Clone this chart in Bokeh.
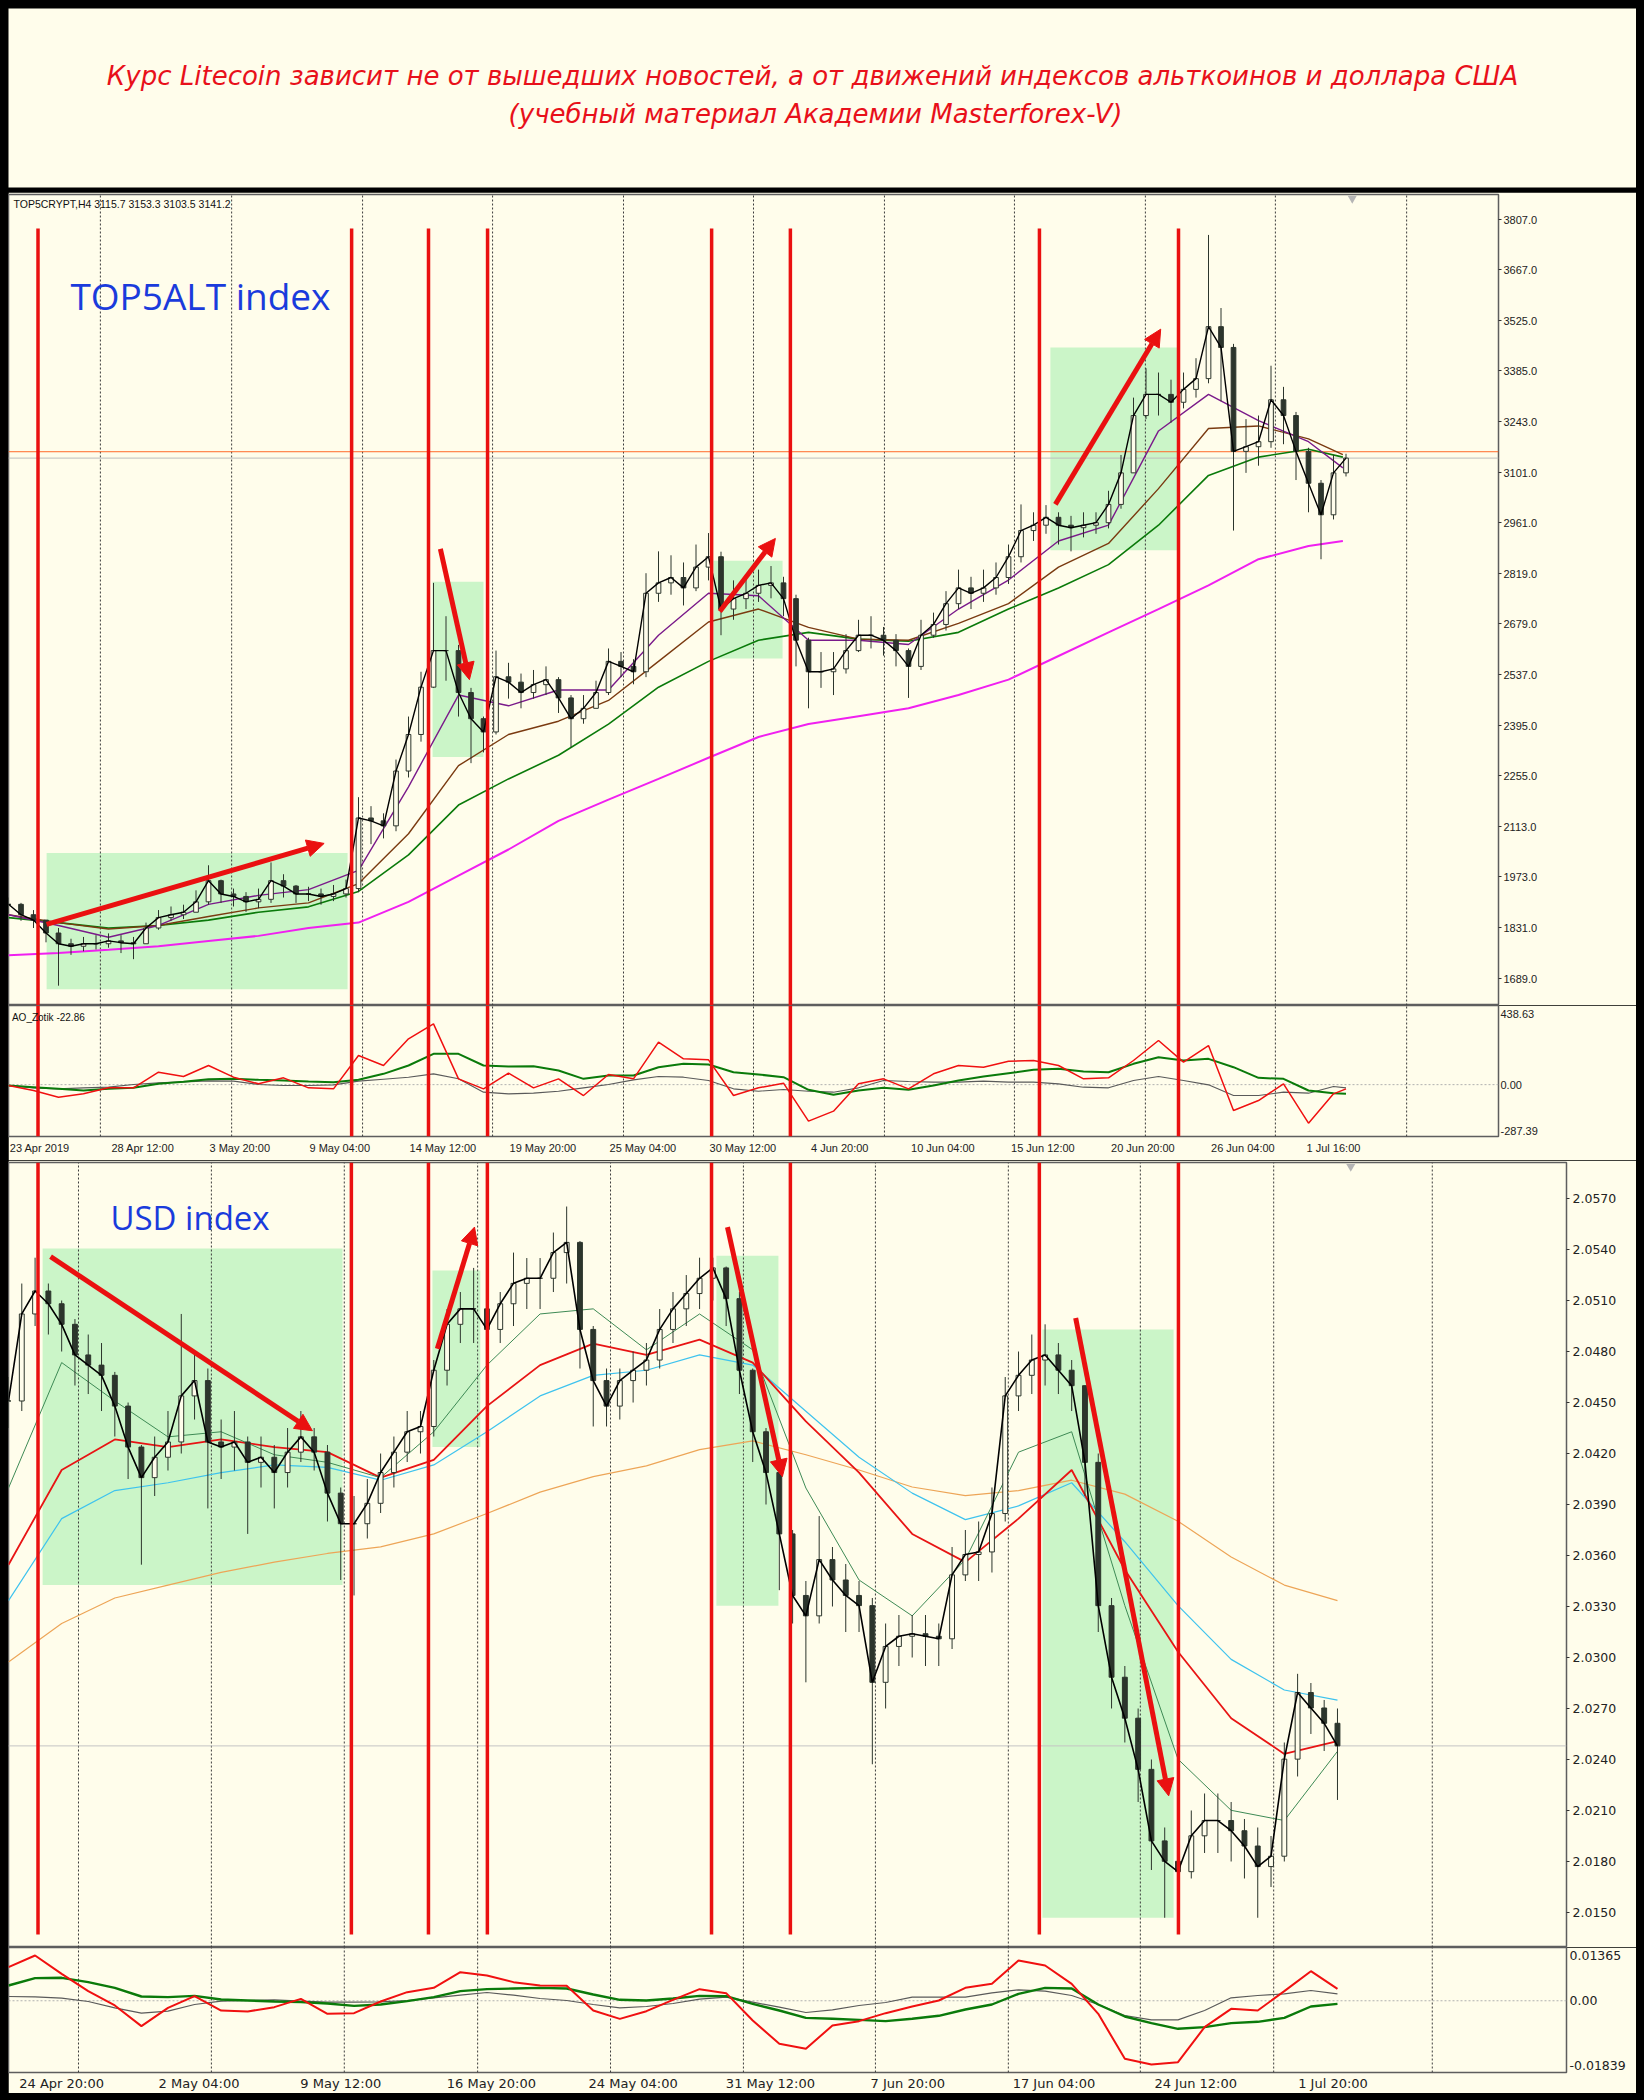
from bokeh.plotting import figure
from bokeh.models import Range1d, FixedTicker, PrintfTickFormatter, Label, Arrow, NormalHead
from bokeh.layouts import column
from bokeh.embed import file_html
from bokeh.resources import INLINE
from bokeh.core.properties import value

CREAM = "#FFFDEB"
BOX_GREEN = "#CBF5C8"
EVENT_RED = "#EA1010"
CANDLE = "#2C352C"
GRID = "#3C3C3C"

title_line1 = "Курс Litecoin зависит не от вышедших новостей, а от движений индексов альткоинов и доллара США"
title_line2 = "(учебный материал Академии Masterforex-V)"

# ================= TOP5ALT index (H4, one sample every 4 bars) =================
top_bar_step = 4
top_close = [1896,1867,1852,1816,1786,1779,1786,1786,1794,1789,
             1786,1830,1859,1867,1874,1903,1962,1925,1918,1903,
             1910,1962,1947,1925,1925,1918,1925,1940,2137,2129,
             2115,2268,2370,2502,2604,2604,2487,2414,2377,2531,
             2516,2487,2509,2523,2472,2414,2443,2487,2574,2560,
             2545,2764,2793,2808,2779,2837,2866,2720,2749,2764,
             2786,2793,2749,2633,2545,2545,2553,2604,2647,2647,
             2633,2604,2560,2647,2677,2735,2779,2764,2779,2808,
             2866,2939,2954,2976,2954,2947,2954,2961,3012,3100,
             3260,3319,3319,3297,3333,3363,3508,3450,3160,3173,
             3187,3304,3260,3160,3071,2983,3100,3141.2]
top_high = [1915,1900,1880,1850,1830,1800,1805,1810,1815,1810,
            1805,1845,1880,1890,1895,1935,2005,1965,1940,1930,
            1940,2013,1980,1950,1945,1940,1950,1965,2195,2170,
            2150,2300,2420,2545,2793,2700,2620,2500,2420,2604,
            2570,2540,2550,2560,2530,2480,2480,2520,2610,2600,
            2580,2820,2881,2870,2850,2900,2932,2880,2800,2810,
            2830,2840,2810,2760,2640,2600,2600,2650,2690,2700,
            2670,2650,2610,2690,2710,2770,2830,2810,2830,2850,
            2900,3012,2990,3010,2990,2980,2990,2990,3050,3150,
            3310,3392,3380,3360,3380,3420,3764,3560,3460,3250,
            3260,3399,3340,3270,3170,3080,3150,3153.3]
top_low = [1870,1850,1830,1790,1669,1755,1765,1770,1775,1760,
           1743,1800,1825,1850,1855,1880,1895,1900,1890,1875,
           1885,1900,1915,1900,1905,1895,1905,1915,1930,2064,
           2080,2100,2250,2350,2500,2520,2420,2290,2320,2370,
           2470,2443,2470,2480,2430,2334,2400,2450,2480,2530,
           2510,2530,2740,2760,2730,2770,2800,2647,2690,2720,
           2740,2750,2700,2560,2443,2500,2480,2540,2600,2610,
           2590,2560,2472,2550,2640,2660,2720,2720,2740,2760,
           2790,2850,2910,2930,2900,2881,2920,2930,2945,3000,
           3100,3250,3260,3240,3280,3310,3350,3300,2939,3100,
           3120,3170,3180,3080,2990,2859,2970,3090]

top_ma_x = [0,16,32,48,64,80,96,112,128,144,160,176,192,208,224,240,256,272,288,304,320,336,352,368,384,400,416,427]
top_ma_purple = [1867,1837,1804,1837,1896,1921,1937,1991,2224,2480,2450,2494,2494,2647,2764,2757,2633,2633,2621,2720,2801,2910,2954,3217,3319,3246,3187,3114]
top_ma_brown = [1867,1845,1827,1837,1862,1886,1900,1954,2093,2283,2370,2407,2465,2574,2684,2720,2669,2636,2633,2680,2735,2837,2903,3056,3224,3231,3195,3151]
top_ma_green = [1859,1845,1830,1837,1852,1874,1889,1932,2034,2173,2246,2312,2399,2502,2574,2633,2655,2636,2630,2655,2720,2779,2844,2954,3093,3144,3166,3144]
top_ma_magenta = [1754,1760,1769,1779,1794,1808,1830,1845,1903,1976,2049,2129,2188,2246,2305,2363,2399,2421,2443,2480,2523,2589,2655,2720,2786,2859,2896,2910]

top_ao_x = [8 * k for k in range(54)] + [428]
top_ao_red = [-4.8,-32.5,-69.4,-51.0,-17.7,-17.7,69.1,45.1,106.1,41.4,4.5,37.7,-17.7,-23.2,161.5,106.1,253.9,337.0,32.2,-23.2,
              63.6,-17.7,32.2,-60.2,56.2,32.2,235.4,143.0,137.5,-60.2,-17.7,8.2,-202.4,-147.0,4.5,32.2,-23.2,59.9,106.1,96.8,
              130.1,133.8,106.1,32.2,37.7,133.8,244.6,124.5,216.9,-143.3,-87.9,4.5,-213.5,-51.0,-23.2]
top_ao_green = [-4.8,-14.0,-23.2,-32.5,-23.2,-17.7,4.5,15.6,30.3,32.2,26.6,22.9,17.4,13.7,26.6,59.9,106.1,170.7,170.7,106.1,
                100.5,102.4,78.4,32.2,50.7,50.7,96.8,115.3,111.6,69.1,56.2,41.4,-28.8,-56.5,-32.5,-17.7,-28.8,-4.8,22.9,45.1,
                63.6,82.1,87.6,72.8,69.1,115.3,152.3,133.8,143.0,96.8,37.7,32.2,-32.5,-47.2,-51.0]
top_ao_gray = [-4.8,-17.7,-23.2,-17.7,-14.0,0.8,10.0,15.6,21.1,19.3,0.8,-4.8,-4.8,-1.1,19.3,30.3,41.4,59.9,32.2,-41.7,
               -51.0,-47.2,-36.2,-17.7,0.8,26.6,45.1,41.4,22.9,-23.2,-36.2,-26.9,-36.2,-41.7,-17.7,22.9,17.4,13.7,13.7,19.3,
               13.7,13.7,4.5,-14.0,-17.7,22.9,45.1,22.9,-1.1,-60.2,-60.2,-41.7,-47.2,-10.3,-17.7]

top_price_ticks = [1689,1831,1973,2113,2255,2395,2537,2679,2819,2961,3101,3243,3385,3525,3667,3807]
top_time_labels = ["23 Apr 2019","28 Apr 12:00","3 May 20:00","9 May 04:00","14 May 12:00","19 May 20:00",
                   "25 May 04:00","30 May 12:00","4 Jun 20:00","10 Jun 04:00","15 Jun 12:00","20 Jun 20:00",
                   "26 Jun 04:00","1 Jul 16:00"]
top_time_label_bar = [0.5,32.5,64.5,96.5,128.5,160.5,192.5,224.5,256.5,288.5,320.5,352.5,384.5,415]
top_grid_bar = [29.4,71.4,113.3,154.9,196.8,238.4,280.3,321.9,363.8,405.4,447.4]
top_event_bar = [9.44,109.8,134.4,153.3,225.0,250.2,329.9,374.4]
top_box_left = [12.2,135.7,225.6,333.4]
top_box_right = [108.5,152.0,247.7,374.1]
top_box_bottom = [1659,2307,2582,2884]
top_box_top = [2039,2796,2855,3450]
top_arrows = [(12.2,1840,101.0,2066),(138.2,2888,147.5,2523),(227.6,2713,245.4,2917),(335.0,3012,368.7,3501)]

# ================= USD index (H4, one sample every 3 bars) =================
usd_bar_step = 3
usd_close = [2.04509,2.05021,2.05156,2.05081,2.04960,2.04780,2.04720,2.04660,2.04479,2.04238,
             2.04058,2.04178,2.04268,2.04539,2.04629,2.04268,2.04238,2.04268,2.04148,2.04178,
             2.04088,2.04208,2.04298,2.04208,2.03967,2.03787,2.03787,2.03907,2.04088,2.04208,
             2.04328,2.04359,2.04690,2.04960,2.05051,2.05051,2.04930,2.05081,2.05201,2.05231,
             2.05231,2.05382,2.05442,2.04930,2.04629,2.04479,2.04629,2.04690,2.04750,2.04930,
             2.05051,2.05141,2.05231,2.05292,2.05111,2.04690,2.04328,2.04088,2.03727,2.03365,
             2.03245,2.03576,2.03456,2.03365,2.03305,2.02854,2.03065,2.03125,2.03140,2.03125,
             2.03110,2.03486,2.03606,2.03621,2.03847,2.04539,2.04660,2.04750,2.04780,2.04690,
             2.04599,2.04148,2.03305,2.02884,2.02643,2.02342,2.01921,2.01801,2.01740,2.01951,
             2.02041,2.02041,2.01981,2.01891,2.01770,2.01831,2.02402,2.02794,2.02703,2.02613,
             2.02480]
usd_high = [2.04650,2.05200,2.05352,2.05200,2.05100,2.04991,2.04900,2.04850,2.04680,2.04500,
            2.04250,2.04300,2.04450,2.05021,2.04800,2.04700,2.04400,2.04450,2.04300,2.04300,
            2.04250,2.04350,2.04450,2.04350,2.04250,2.04000,2.03950,2.04050,2.04200,2.04300,
            2.04450,2.04450,2.04750,2.05050,2.05150,2.05292,2.05100,2.05150,2.05382,2.05350,
            2.05350,2.05500,2.05653,2.05450,2.04950,2.04700,2.04700,2.04800,2.04850,2.05050,
            2.05150,2.05250,2.05352,2.05352,2.05300,2.05150,2.04700,2.04350,2.04100,2.03750,
            2.03450,2.03832,2.03650,2.03550,2.03450,2.03350,2.03200,2.03250,2.03250,2.03250,
            2.03200,2.03650,2.03750,2.03800,2.04000,2.04650,2.04800,2.04900,2.04960,2.04850,
            2.04750,2.04600,2.04200,2.03350,2.02950,2.02700,2.02400,2.02000,2.02000,2.02100,
            2.02200,2.02200,2.02150,2.02050,2.02000,2.01950,2.02500,2.02904,2.02850,2.02750,
            2.02700]
usd_low = [2.04350,2.04450,2.04950,2.04900,2.04800,2.04600,2.04550,2.04450,2.04300,2.04050,
           2.03546,2.03950,2.04100,2.04200,2.04400,2.03877,2.04050,2.04100,2.03727,2.04000,
           2.03877,2.04000,2.04150,2.04100,2.03800,2.03456,2.03365,2.03700,2.03850,2.04000,
           2.04150,2.04200,2.04300,2.04600,2.04850,2.04850,2.04750,2.04850,2.04950,2.05050,
           2.05050,2.05150,2.05200,2.04700,2.04359,2.04359,2.04400,2.04500,2.04600,2.04700,
           2.04850,2.04950,2.05050,2.05100,2.04950,2.04550,2.04150,2.03900,2.03396,2.03200,
           2.02854,2.03200,2.03300,2.03150,2.03150,2.02372,2.02700,2.02950,2.03000,2.02950,
           2.02950,2.03050,2.03450,2.03450,2.03500,2.03800,2.04450,2.04550,2.04600,2.04550,
           2.04450,2.03950,2.03150,2.02700,2.02500,2.02150,2.01750,2.01469,2.01600,2.01700,
           2.01850,2.01850,2.01800,2.01700,2.01469,2.01650,2.01800,2.02300,2.02550,2.02450,
           2.02162]

usd_ma_x = [12 * k for k in range(26)]
usd_ma_fast_green = [2.03997,2.04735,2.04509,2.04298,2.04328,2.04193,2.04148,2.04058,2.04328,2.04720,2.05021,2.05051,2.04810,
                     2.05021,2.04810,2.03997,2.03456,2.03245,2.03576,2.04208,2.04328,2.03305,2.02402,2.02101,2.02041,2.02448]
usd_ma_red = [2.03546,2.04103,2.04283,2.04238,2.04283,2.04238,2.04208,2.04058,2.04163,2.04479,2.04720,2.04846,2.04780,
              2.04870,2.04735,2.04389,2.04088,2.03727,2.03561,2.03817,2.04103,2.03516,2.03034,2.02643,2.02433,2.02508]
usd_ma_cyan = [2.03335,2.03817,2.03982,2.04028,2.04088,2.04133,2.04118,2.04043,2.04133,2.04328,2.04539,2.04660,2.04690,
               2.04780,2.04720,2.04449,2.04178,2.03967,2.03811,2.03892,2.04028,2.03681,2.03305,2.02989,2.02809,2.02749]
usd_ma_orange = [2.02974,2.03200,2.03350,2.03426,2.03501,2.03561,2.03612,2.03651,2.03727,2.03847,2.03973,2.04064,2.04127,
                 2.04223,2.04274,2.04193,2.04103,2.04003,2.03952,2.03982,2.04043,2.03961,2.03802,2.03591,2.03426,2.03335]

usd_osc_x = [6 * k for k in range(51)]
usd_osc_red = [0.00861,0.01160,0.00690,0.00246,-0.00121,-0.00651,-0.00181,0.00118,-0.00250,-0.00275,
               -0.00164,0.00049,-0.00335,-0.00318,-0.00019,0.00220,0.00331,0.00733,0.00647,0.00477,
               0.00391,0.00382,-0.00250,-0.00464,-0.00267,0.00024,0.00297,0.00195,-0.00506,-0.01104,
               -0.01232,-0.00634,-0.00523,-0.00318,-0.00147,0.00006,0.00331,0.00434,0.01032,0.00904,
               0.00434,-0.00335,-0.01488,-0.01634,-0.01574,-0.00677,-0.00207,-0.00250,0.00246,0.00758,0.00306]
usd_osc_green = [0.00391,0.00579,0.00588,0.00477,0.00331,0.00109,0.00092,0.00126,0.00032,0.00006,
                 -0.00019,-0.00036,-0.00071,-0.00130,-0.00096,-0.00010,0.00092,0.00246,0.00297,0.00314,
                 0.00331,0.00314,0.00160,0.00024,0.00006,0.00058,0.00126,0.00118,-0.00079,-0.00250,
                 -0.00438,-0.00463,-0.00489,-0.00523,-0.00463,-0.00386,-0.00224,-0.00096,0.00177,0.00331,
                 0.00314,-0.00096,-0.00403,-0.00574,-0.00719,-0.00677,-0.00574,-0.00540,-0.00438,-0.00147,-0.00079]
usd_osc_gray = [0.00109,0.00101,0.00066,-0.00019,-0.00181,-0.00318,-0.00267,-0.00096,-0.00010,0.00006,
                0.00024,-0.00010,-0.00036,-0.00036,-0.00027,0.00006,0.00075,0.00143,0.00212,0.00143,
                0.00058,0.00006,-0.00096,-0.00181,-0.00147,-0.00071,0.00041,0.00092,-0.00036,-0.00164,
                -0.00301,-0.00233,-0.00121,-0.00045,0.00092,0.00092,0.00092,0.00203,0.00280,0.00246,
                0.00135,-0.00096,-0.00378,-0.00489,-0.00489,-0.00250,0.00075,0.00135,0.00177,0.00263,0.00177]

usd_price_ticks = [2.0150,2.0180,2.0210,2.0240,2.0270,2.0300,2.0330,2.0360,2.0390,2.0420,2.0450,2.0480,2.0510,2.0540,2.0570]
usd_time_labels = ["24 Apr 20:00","2 May 04:00","9 May 12:00","16 May 20:00","24 May 04:00",
                   "31 May 12:00","7 Jun 20:00","17 Jun 04:00","24 Jun 12:00","1 Jul 20:00"]
usd_time_label_bar = [2.7,34.8,66.8,99.1,131.2,163.0,194.8,226.6,258.7,290.7]
usd_grid_bar = [15.8,45.8,75.8,105.9,135.9,165.9,195.7,225.7,255.5,285.6,321.4]
usd_event_bar = [6.66,77.4,94.8,108.1,158.7,176.5,232.7,264.1]
usd_box_left = [7.7,95.7,159.8,233.4]
usd_box_right = [75.4,106.5,173.8,263.0]
usd_box_bottom = [2.03426,2.04238,2.03305,2.01469]
usd_box_top = [2.05406,2.05277,2.05364,2.04930]
usd_arrows = [(9.5,2.05358,68.6,2.04334),(96.8,2.04816,105.2,2.05532),(162.3,2.05532,174.7,2.04064),(240.9,2.04997,261.9,2.02186)]

# ================= layout constants =================
W = 1628
TOP_FW, USD_FW = 1490, 1558
TOP_XR = (0, 476.8)
USD_XR = (0, 351.7)
TOP_YR = (1613.7, 3876.8)
USD_YR = (2.01294, 2.05912)
AO_YR = (-287.39, 438.63)
OSC_YR = (-0.01839, 0.01365)


def base_fig(fw, fh, xr, yr, mbr, mbt=0, mbb=0, xaxis=False):
    p = figure(frame_width=fw, frame_height=fh, x_range=Range1d(*xr), y_range=Range1d(*yr),
               output_backend="svg", toolbar_location=None,
               x_axis_location="below" if xaxis else None, y_axis_location="right",
               min_border_left=0, min_border_right=mbr, min_border_top=mbt, min_border_bottom=mbb,
               background_fill_color=CREAM, border_fill_color=CREAM)
    p.grid.visible = False
    p.outline_line_color = "#5E5E5E"
    p.outline_line_width = 1.5
    ax = p.yaxis[0]
    ax.axis_line_color = None
    ax.major_tick_in = 0
    ax.major_tick_out = 3
    ax.minor_tick_line_color = None
    ax.major_tick_line_color = "#333333"
    ax.major_label_text_color = "#222222"
    return p


def style_y(p, font, size, standoff):
    ax = p.yaxis[0]
    ax.major_label_text_font = font
    ax.major_label_text_font_size = size
    ax.major_label_standoff = standoff


def time_axis(p, labels, left_bars, char_px, ppb, font, size, standoff):
    centers = [int(round(b + len(t) * char_px / 2.0 / ppb)) for t, b in zip(labels, left_bars)]
    ax = p.xaxis[0]
    ax.ticker = FixedTicker(ticks=centers)
    ax.major_label_overrides = {c: t for c, t in zip(centers, labels)}
    ax.axis_line_color = None
    ax.major_tick_line_color = None
    ax.major_tick_out = 0
    ax.major_tick_in = 0
    ax.minor_tick_line_color = None
    ax.major_label_text_font = font
    ax.major_label_text_font_size = size
    ax.major_label_text_color = "#222222"
    ax.major_label_standoff = standoff


def vgrid(p, bars, yr):
    n = len(bars)
    p.segment(x0=bars, y0=[yr[0]] * n, x1=bars, y1=[yr[1]] * n,
              line_color=GRID, line_width=1, line_dash="2 2")


def candles(p, xs, o, h, l, c, w):
    p.segment(x0=xs, y0=h, x1=xs, y1=l, line_color=CANDLE, line_width=1)
    up = [i for i in range(len(xs)) if c[i] >= o[i]]
    dn = [i for i in range(len(xs)) if c[i] < o[i]]
    p.vbar(x=[xs[i] for i in up], width=w, bottom=[o[i] for i in up], top=[c[i] for i in up],
           fill_color=CREAM, line_color=CANDLE, line_width=1)
    p.vbar(x=[xs[i] for i in dn], width=w, bottom=[c[i] for i in dn], top=[o[i] for i in dn],
           fill_color=CANDLE, line_color=CANDLE, line_width=1)


def arrows(p, arr):
    for (x0, y0, x1, y1) in arr:
        p.add_layout(Arrow(end=NormalHead(size=17, fill_color=EVENT_RED, line_color=EVENT_RED),
                           x_start=x0, y_start=y0, x_end=x1, y_end=y1,
                           line_color=EVENT_RED, line_width=5))


# ================= title =================
pt = figure(frame_width=W, frame_height=179, x_range=Range1d(0, W), y_range=Range1d(179, 0),
            output_backend="svg", toolbar_location=None, x_axis_location=None, y_axis_location=None,
            min_border_left=0, min_border_right=0, min_border_top=0, min_border_bottom=5,
            background_fill_color=CREAM, border_fill_color="#000000")
pt.grid.visible = False
pt.outline_line_color = None
pt.text(x=[804, 807], y=[67, 105], text=[title_line1, title_line2], text_align="center",
        text_baseline="middle", text_color="#E8101A", text_font=value("DejaVu Sans"),
        text_font_size="26px", text_font_style="italic")

# ================= TOP5ALT main =================
p1 = base_fig(TOP_FW, 811, TOP_XR, TOP_YR, mbr=W - TOP_FW, mbt=2)
style_y(p1, "Liberation Sans", "11px", 2)
p1.yaxis[0].ticker = FixedTicker(ticks=top_price_ticks)
p1.yaxis[0].formatter = PrintfTickFormatter(format="%.1f")
p1.quad(left=top_box_left, right=top_box_right, bottom=top_box_bottom, top=top_box_top,
        fill_color=BOX_GREEN, line_color=None)
vgrid(p1, top_grid_bar, TOP_YR)
p1.segment(x0=[TOP_XR[0]], y0=[3159.0], x1=[TOP_XR[1]], y1=[3159.0], line_color="#FF6A2A", line_width=1)
p1.segment(x0=[TOP_XR[0]], y0=[top_close[-1]], x1=[TOP_XR[1]], y1=[top_close[-1]], line_color="#BDBDBD", line_width=1)
p1.line(top_ma_x, top_ma_magenta, line_color="#F020F0", line_width=2)
p1.line(top_ma_x, top_ma_green, line_color="#0A7A0A", line_width=1.6)
p1.line(top_ma_x, top_ma_brown, line_color="#7A3A10", line_width=1.4)
p1.line(top_ma_x, top_ma_purple, line_color="#7A1A8A", line_width=1.4)
top_x = [i * top_bar_step for i in range(len(top_close))]
top_open = [top_close[0]] + top_close[:-1]
candles(p1, top_x, top_open, top_high, top_low, top_close, 1.5)
p1.line(top_x, top_close, line_color="#000000", line_width=1.4)
ne = len(top_event_bar)
p1.segment(x0=top_event_bar, y0=[3782] * ne, x1=top_event_bar, y1=[TOP_YR[0]] * ne,
           line_color=EVENT_RED, line_width=3.5)
arrows(p1, top_arrows)
p1.text(x=[19.8], y=[3595], text=["TOP5ALT index"], text_font=value("Open Sans"), text_font_size="37px",
        text_color="#1A3BDC", text_baseline="alphabetic", text_align="left")
p1.text(x=[1.6], y=[3851.6], text=["TOP5CRYPT,H4  3115.7 3153.3 3103.5 3141.2"],
        text_font=value("Liberation Sans"), text_font_size="10.5px", text_color="#111111",
        text_baseline="middle", text_align="left")
p1.scatter(x=[top_x[-1] + 2], y=[TOP_YR[1] - 11], marker="inverted_triangle", size=9,
           fill_color="#B5B5B5", line_color=None)
p1.add_layout(Label(x=TOP_XR[1] + 0.2, y=3166, text="3159.0", text_font="Liberation Sans",
                    text_font_size="11px", text_color="white", text_baseline="middle",
                    background_fill_color="#FF4D1A"))
p1.add_layout(Label(x=TOP_XR[1] + 0.2, y=top_close[-1], text="3141.2", text_font="Liberation Sans",
                    text_font_size="11px", text_color="white", text_baseline="middle",
                    background_fill_color="#000000"))

# ================= TOP5ALT oscillator =================
p2 = base_fig(TOP_FW, 131, TOP_XR, AO_YR, mbr=W - TOP_FW, mbb=24, xaxis=True)
style_y(p2, "Liberation Sans", "11px", 2)
p2.yaxis[0].ticker = FixedTicker(ticks=[-255, 0, 390])
p2.yaxis[0].major_label_overrides = {-255: "-287.39", 0: "0.00", 390: "438.63"}
p2.yaxis[0].major_tick_out = 0
time_axis(p2, top_time_labels, top_time_label_bar, 5.3, TOP_FW / (TOP_XR[1] - TOP_XR[0]),
          "Liberation Sans", "11px", 5)
vgrid(p2, top_grid_bar, AO_YR)
p2.segment(x0=[TOP_XR[0]], y0=[0], x1=[TOP_XR[1]], y1=[0], line_color="#B0B0B0", line_dash="2 2", line_width=1)
p2.line(top_ao_x, top_ao_gray, line_color="#5A5A5A", line_width=1.1)
p2.line(top_ao_x, top_ao_green, line_color="#0A7A0A", line_width=2)
p2.line(top_ao_x, top_ao_red, line_color="#F01010", line_width=1.5)
p2.segment(x0=top_event_bar, y0=[AO_YR[1]] * ne, x1=top_event_bar, y1=[AO_YR[0]] * ne,
           line_color=EVENT_RED, line_width=3.5)
p2.text(x=[1.1], y=[372], text=["AO_Zotik -22.86"], text_font=value("Liberation Sans"),
        text_font_size="10px", text_color="#111111", text_baseline="middle", text_align="left")

# ================= USD main =================
p3 = base_fig(USD_FW, 785, USD_XR, USD_YR, mbr=W - USD_FW, mbt=2)
style_y(p3, "DejaVu Sans", "12.5px", 3)
p3.yaxis[0].ticker = FixedTicker(ticks=usd_price_ticks)
p3.yaxis[0].formatter = PrintfTickFormatter(format="%.4f")
p3.quad(left=usd_box_left, right=usd_box_right, bottom=usd_box_bottom, top=usd_box_top,
        fill_color=BOX_GREEN, line_color=None)
vgrid(p3, usd_grid_bar, USD_YR)
p3.segment(x0=[USD_XR[0]], y0=[usd_close[-1]], x1=[USD_XR[1]], y1=[usd_close[-1]], line_color="#C4C4C4", line_width=1)
p3.line(usd_ma_x, usd_ma_orange, line_color="#EDA557", line_width=1.2)
p3.line(usd_ma_x, usd_ma_cyan, line_color="#3EC3EE", line_width=1.2)
p3.line(usd_ma_x, usd_ma_red, line_color="#E81414", line_width=1.8)
p3.line(usd_ma_x, usd_ma_fast_green, line_color="#3E8A55", line_width=1)
usd_x = [i * usd_bar_step for i in range(len(usd_close))]
usd_open = [usd_close[0]] + usd_close[:-1]
candles(p3, usd_x, usd_open, usd_high, usd_low, usd_close, 1.1)
p3.line(usd_x, usd_close, line_color="#000000", line_width=1.6)
nu = len(usd_event_bar)
p3.segment(x0=usd_event_bar, y0=[USD_YR[1]] * nu, x1=usd_event_bar, y1=[2.0137] * nu,
           line_color=EVENT_RED, line_width=3.5)
arrows(p3, usd_arrows)
p3.text(x=[23], y=[2.05588], text=["USD index"], text_font=value("Open Sans"), text_font_size="33px",
        text_color="#1A3BDC", text_baseline="alphabetic", text_align="left")
p3.scatter(x=[usd_x[-1] + 3], y=[USD_YR[1] - 0.00024], marker="inverted_triangle", size=9,
           fill_color="#B5B5B5", line_color=None)
p3.add_layout(Label(x=USD_XR[1] + 0.1, y=usd_close[-1], text="2.0248", text_font="DejaVu Sans",
                    text_font_size="12.5px", text_color="white", text_baseline="middle",
                    background_fill_color="#000000"))

# ================= USD oscillator =================
p4 = base_fig(USD_FW, 125, USD_XR, OSC_YR, mbr=W - USD_FW, mbb=20, xaxis=True)
style_y(p4, "DejaVu Sans", "12.5px", 3)
p4.yaxis[0].ticker = FixedTicker(ticks=[-0.0166, 0, 0.0116])
p4.yaxis[0].major_label_overrides = {-0.0166: "-0.01839", 0: "0.00", 0.0116: "0.01365"}
p4.yaxis[0].major_tick_out = 0
time_axis(p4, usd_time_labels, usd_time_label_bar, 7.0, USD_FW / (USD_XR[1] - USD_XR[0]),
          "DejaVu Sans", "13px", 3)
vgrid(p4, usd_grid_bar, OSC_YR)
p4.segment(x0=[USD_XR[0]], y0=[0], x1=[USD_XR[1]], y1=[0], line_color="#B0B0B0", line_dash="2 2", line_width=1)
p4.line(usd_osc_x, usd_osc_gray, line_color="#5A5A5A", line_width=1.2)
p4.line(usd_osc_x, usd_osc_green, line_color="#0A7A0A", line_width=2.4)
p4.line(usd_osc_x, usd_osc_red, line_color="#F01010", line_width=2)

layout = column(pt, p1, p2, p3, p4, spacing=0)
html = file_html(layout, INLINE, title="Litecoin")
page_css = ("<style>html, body { background-color: #000000 !important; } "
            "body { margin: 0 !important; padding: 8px !important; }</style>")
html = html.replace("</head>", page_css + "</head>", 1)
open("out.html", "w").write(html)
